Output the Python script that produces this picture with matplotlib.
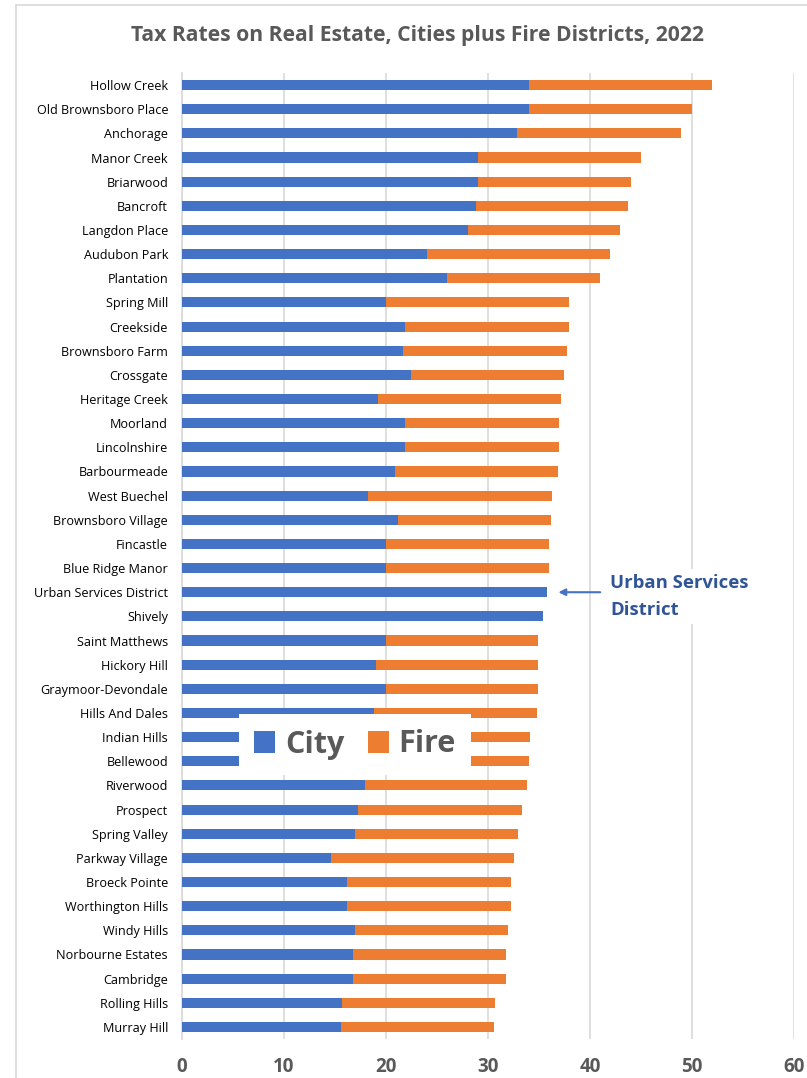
import numpy as np
import matplotlib.pyplot as plt
from matplotlib.patches import Patch
from matplotlib.lines import Line2D

cities = ["Hollow Creek", "Old Brownsboro Place", "Anchorage", "Manor Creek",
          "Briarwood", "Bancroft", "Langdon Place", "Audubon Park", "Plantation",
          "Spring Mill", "Creekside", "Brownsboro Farm", "Crossgate",
          "Heritage Creek", "Moorland", "Lincolnshire", "Barbourmeade",
          "West Buechel", "Brownsboro Village", "Fincastle", "Blue Ridge Manor",
          "Urban Services District", "Shively", "Saint Matthews", "Hickory Hill",
          "Graymoor-Devondale", "Hills And Dales", "Indian Hills", "Bellewood",
          "Riverwood", "Prospect", "Spring Valley", "Parkway Village",
          "Broeck Pointe", "Worthington Hills", "Windy Hills",
          "Norbourne Estates", "Cambridge", "Rolling Hills", "Murray Hill"]

city_rate = [34.0, 34.0, 32.8, 29.0, 29.0, 28.8, 28.0, 24.0, 26.0, 20.0,
             21.9, 21.7, 22.45, 19.2, 21.9, 21.9, 20.9, 18.25, 21.15, 20.0,
             20.0, 35.8, 35.4, 20.0, 19.0, 20.0, 18.85, 18.0, 17.5,
             17.9, 17.25, 16.95, 14.6, 16.2, 16.2, 16.95, 16.75, 16.75,
             15.65, 15.6]

total_rate = [52.0, 50.0, 48.9, 45.0, 44.0, 43.75, 42.95, 42.0, 41.0, 37.95,
              37.95, 37.75, 37.45, 37.15, 36.95, 36.95, 36.85, 36.3, 36.2, 35.95,
              35.95, 35.8, 35.4, 34.95, 34.95, 34.95, 34.85, 34.1, 34.0,
              33.85, 33.3, 32.95, 32.55, 32.3, 32.25, 31.95, 31.8, 31.8,
              30.65, 30.55]

fire_rate = [t - c for t, c in zip(total_rate, city_rate)]

plt.rcParams['font.family'] = ['Open Sans', 'DejaVu Sans']

fig = plt.figure(figsize=(8.07, 10.78), dpi=100)
ax = fig.add_axes([182 / 807, 39 / 1078, 612 / 807, 966 / 1078])

y = np.arange(len(cities))
blue = '#4472C4'
orange = '#ED7D31'
ax.barh(y, city_rate, height=0.42, color=blue, zorder=3)
ax.barh(y, fire_rate, left=city_rate, height=0.42, color=orange, zorder=3)

ax.set_xlim(0, 60)
ax.set_ylim(len(cities) - 0.5, -0.5)
ax.set_xticks(range(0, 61, 10))
ax.set_yticks(y)
ax.set_yticklabels(cities, fontsize=9.1, color='black')
ax.tick_params(axis='y', length=0, pad=10)
ax.tick_params(axis='x', length=0, pad=13, labelsize=13.5, labelcolor='#595959')
for lab in ax.get_xticklabels():
    lab.set_fontweight('bold')
ax.grid(axis='x', color='#d9d9d9', linewidth=1.2, zorder=0)
for s in ['top', 'right', 'bottom']:
    ax.spines[s].set_visible(False)
ax.spines['left'].set_color('#d9d9d9')
ax.spines['left'].set_linewidth(1.2)

fig.text(417 / 807, 1 - 35 / 1078, 'Tax Rates on Real Estate, Cities plus Fire Districts, 2022',
         ha='center', va='center', fontsize=15.2, fontweight='bold', color='#595959')

# chart area border
fig.add_artist(Line2D([16 / 807, 1.0], [1 - 5 / 1078, 1 - 5 / 1078],
                      transform=fig.transFigure, color='#d9d9d9', lw=1.2))
fig.add_artist(Line2D([16 / 807, 16 / 807], [0, 1 - 5 / 1078],
                      transform=fig.transFigure, color='#d9d9d9', lw=1.2))

# annotation
usd = cities.index('Urban Services District')
ax.annotate('', xy=(36.9, usd), xytext=(41.0, usd),
            arrowprops=dict(arrowstyle='-|>', color=blue, lw=1.5,
                            mutation_scale=10, shrinkA=0, shrinkB=0), zorder=5)
ax.text(42.0, usd + 0.17, 'Urban Services\nDistrict', ha='left', va='center',
        fontsize=13.3, fontweight='bold', color='#2F5597', linespacing=1.6,
        bbox=dict(facecolor='white', edgecolor='none', pad=4), zorder=5)

handles = [Patch(facecolor=blue, label='City'), Patch(facecolor=orange, label='Fire')]
leg = ax.legend(handles=handles, ncol=2, loc='center',
                bbox_to_anchor=((355 - 182) / 612, 1 - (744.5 - 73) / 966),
                frameon=True, fancybox=False, framealpha=1, edgecolor='none',
                prop={'size': 22, 'weight': 'bold'}, handlelength=0.7,
                handleheight=0.7, handletextpad=0.32, columnspacing=0.75,
                borderpad=0.5)
for t in leg.get_texts():
    t.set_color('#595959')
leg.set_zorder(6)

fig.savefig('out.png', dpi=100)
